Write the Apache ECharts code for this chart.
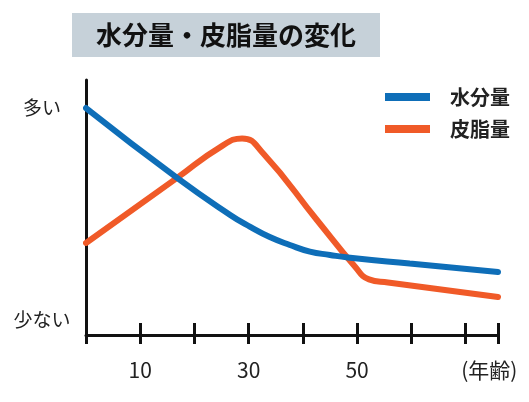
<!DOCTYPE html>
<html lang="ja">
<head>
<meta charset="UTF-8" />
<title>水分量・皮脂量の変化</title>
<script src="https://cdn.jsdelivr.net/npm/echarts@6/dist/echarts.min.js"></script>
<style>
  html, body { margin: 0; padding: 0; background: #fff; }
  #chart { width: 529px; height: 402px; }
</style>
</head>
<body>
<div id="chart"></div>
<script>
// values (age on x, relative amount 0-100 on y)
const waterAges = [0, 16.8, 26.6, 30.3, 33.9, 37.6, 41.3, 45.0, 48.3, 59.7, 76];
const waterValues = [89, 61.6, 47.1, 42.4, 38.4, 35.3, 32.7, 31.4, 30.4, 28.0, 24.7];
const oilAges = [0, 16.8, 24.7, 28.8, 32.7, 42.6, 49.6, 52.2, 55.7, 76];
const oilValues = [36.1, 61.6, 73.6, 77.1, 71.2, 45.1, 26.9, 21.8, 20.6, 14.9];

const xLabelValues = [10, 30, 50, 74.4];
const xLabelTexts = ['10', '30', '50', '(年齢)'];
const yLabelValues = [89, 5.9];
const yLabelTexts = ['多い', '少ない'];

const font = '"Noto Sans CJK JP", sans-serif';
const chart = echarts.init(document.getElementById('chart'));

function pairs(xs, ys) {
  return xs.map((x, i) => [x, ys[i]]);
}

const option = {
  animation: false,
  textStyle: { fontFamily: font },
  title: {
    text: '水分量・皮脂量の変化',
    left: 72,
    top: 13,
    padding: [9, 24, 9, 24],
    backgroundColor: '#c6d1d9',
    textStyle: { fontSize: 26, fontWeight: 'bold', color: '#111', fontFamily: font }
  },
  legend: {
    orient: 'vertical',
    left: 385,
    top: 87,
    padding: 0,
    itemWidth: 45,
    itemHeight: 8,
    itemGap: 12,
    icon: 'rect',
    data: ['水分量', '皮脂量'],
    textStyle: { fontSize: 20, fontWeight: 'bold', color: '#222', padding: [0, 0, 0, 15], fontFamily: font }
  },
  grid: { left: 86, right: 31, top: 80, bottom: 67 },
  xAxis: [
    {
      type: 'value', min: 0, max: 76, interval: 10, position: 'bottom',
      axisLine: { lineStyle: { color: '#111', width: 3 } },
      axisTick: { inside: true, length: 12, lineStyle: { color: '#111', width: 3 } },
      splitLine: { show: false },
      axisLabel: {
        customValues: xLabelValues,
        formatter: v => xLabelTexts[xLabelValues.indexOf(v)],
        fontSize: 21, color: '#222', margin: 25
      }
    },
    {
      type: 'value', min: 0, max: 76, interval: 10, position: 'bottom',
      axisLine: { show: false },
      axisTick: { inside: false, length: 9, lineStyle: { color: '#111', width: 3 } },
      splitLine: { show: false },
      axisLabel: { show: false }
    }
  ],
  yAxis: {
    type: 'value', min: 0, max: 100,
    axisLine: { show: true, lineStyle: { color: '#111', width: 3 } },
    axisTick: { show: false },
    splitLine: { show: false },
    axisLabel: {
      customValues: yLabelValues,
      formatter: v => yLabelTexts[yLabelValues.indexOf(v)],
      fontSize: 19, color: '#222', align: 'center', margin: 44
    }
  },
  series: [
    {
      name: '皮脂量', type: 'line', smooth: 0.5, showSymbol: false, clip: false,
      color: '#f05a28',
      lineStyle: { width: 6, cap: 'round', color: '#f05a28' },
      data: pairs(oilAges, oilValues)
    },
    {
      name: '水分量', type: 'line', smooth: 0.5, showSymbol: false, clip: false,
      color: '#0e6eb8',
      lineStyle: { width: 6, cap: 'round', color: '#0e6eb8' },
      data: pairs(waterAges, waterValues)
    }
  ]
};
chart.setOption(option);
</script>
</body>
</html>
